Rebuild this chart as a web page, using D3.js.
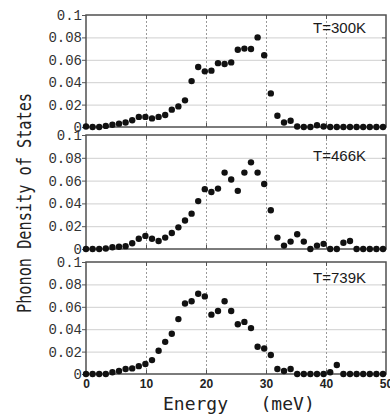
<!DOCTYPE html>
<html>
<head>
<meta charset="utf-8">
<script src="https://cdn.jsdelivr.net/npm/d3@7"></script>
<style>
  body { margin: 0; background: #fff; }
  .grid-h line { stroke: #cfcfcf; stroke-width: 1; }
  .grid-v line { stroke: #9a9a9a; stroke-width: 1; stroke-dasharray: 2,2; }
  .ytick text { font-family: "Liberation Mono", monospace; font-size: 14px; fill: #333; }
  .ytick line, .inner-tick line { stroke: #555; stroke-width: 1; }
  .xtick text { font-family: "Liberation Sans", Arial, sans-serif; font-weight: bold; font-size: 12px; fill: #222; }
  .xtick line { stroke: none; }
</style>
</head>
<body>
<svg id="chart" width="390" height="416"></svg>
<script>
// energy grid (meV) and phonon DOS
const energy = [0, 1.1, 2.2, 3.3, 4.4, 5.5, 6.6, 7.7, 8.8, 9.9,
  11, 12.1, 13.2, 14.3, 15.4, 16.5, 17.6, 18.7, 19.8, 20.9,
  22, 23.1, 24.2, 25.3, 26.4, 27.5, 28.6, 29.7, 30.8, 31.9,
  33, 34.1, 35.2, 36.3, 37.4, 38.5, 39.6, 40.7, 41.8, 42.9,
  44, 45.1, 46.2, 47.3, 48.4, 49.5];

const dos300 = [0.0005, 0, 0, 0.001, 0.002, 0.003, 0.004, 0.006, 0.009, 0.009,
  0.0077, 0.009, 0.0107, 0.0155, 0.0184, 0.0238, 0.041, 0.0536, 0.0497, 0.0503,
  0.057, 0.0563, 0.0577, 0.069, 0.070, 0.0697, 0.080, 0.064, 0.030, 0.010,
  0.004, 0.0056, 0.0005, 0, 0, 0.0015, 0.0005, 0, 0, 0,
  0, 0, 0, 0, 0, 0];

const dos466 = [0, 0, 0, 0.0005, 0.0015, 0.002, 0.0025, 0.005, 0.009, 0.0115,
  0.009, 0.007, 0.010, 0.014, 0.019, 0.025, 0.031, 0.042, 0.0525, 0.050,
  0.053, 0.067, 0.061, 0.051, 0.067, 0.076, 0.067, 0.057, 0.034, 0.010,
  0.003, 0.0065, 0.013, 0.0065, 0, 0.003, 0.0045, 0, 0, 0.0055,
  0.007, 0, 0, 0, 0, 0];

const dos739 = [0, 0, 0, 0, 0.0015, 0.0027, 0.0044, 0.005, 0.007, 0.0089,
  0.0124, 0.0207, 0.0287, 0.036, 0.049, 0.063, 0.065, 0.0717, 0.0693, 0.053,
  0.0563, 0.0649, 0.0563, 0.0444, 0.0465, 0.041, 0.0243, 0.0228, 0.0169, 0.0044,
  0.0027, 0.0044, 0, 0, 0, 0, 0, 0.0015, 0.008, 0,
  0, 0, 0, 0, 0, 0];

const tempLabels = ["T=300K", "T=466K", "T=739K"];
const yTicks = [0, 0.02, 0.04, 0.06, 0.08, 0.1];
const xTicks = [0, 10, 20, 30, 40, 50];

const series = [dos300, dos466, dos739];

// panel layout
const left = 86, right = 386;
const panels = [
  { top: 15, bottom: 127, labelY: 33 },
  { top: 135, bottom: 249, labelY: 161 },
  { top: 262, bottom: 374, labelY: 283 }
];

const svg = d3.select("#chart");
const x = d3.scaleLinear().domain([0, 50]).range([left, right]);
const w = right - left;

panels.forEach((p, i) => {
  const y = d3.scaleLinear().domain([0, 0.1]).range([p.bottom, p.top]);
  const h = p.bottom - p.top;
  const g = svg.append("g");

  // grid lines
  g.append("g")
    .attr("class", "grid-h")
    .attr("transform", `translate(${left},0)`)
    .call(d3.axisLeft(y).tickValues(yTicks.slice(1, -1)).tickSize(-w).tickFormat(""))
    .call(a => a.select(".domain").remove());

  g.append("g")
    .attr("class", "grid-v")
    .attr("transform", `translate(0,${p.bottom})`)
    .call(d3.axisBottom(x).tickValues(xTicks.slice(1, -1)).tickSize(-h).tickFormat(""))
    .call(a => a.select(".domain").remove());

  // small inner ticks on right, top, bottom
  g.append("g")
    .attr("class", "inner-tick")
    .attr("transform", `translate(${right},0)`)
    .call(d3.axisRight(y).tickValues(yTicks.slice(1, -1)).tickSize(-4).tickFormat(""))
    .call(a => a.select(".domain").remove());
  g.append("g")
    .attr("class", "inner-tick")
    .attr("transform", `translate(0,${p.bottom})`)
    .call(d3.axisBottom(x).tickValues(xTicks.slice(1, -1)).tickSize(-4).tickFormat(""))
    .call(a => a.select(".domain").remove());
  g.append("g")
    .attr("class", "inner-tick")
    .attr("transform", `translate(0,${p.top})`)
    .call(d3.axisTop(x).tickValues(xTicks.slice(1, -1)).tickSize(-4).tickFormat(""))
    .call(a => a.select(".domain").remove());

  // left axis labels
  g.append("g")
    .attr("class", "ytick")
    .attr("transform", `translate(${left},0)`)
    .call(d3.axisLeft(y).tickValues(yTicks).tickSize(4).tickPadding(0)
      .tickFormat(d => d === 0 ? "0" : d3.format(".2~f")(d)))
    .call(a => a.select(".domain").remove());

  // frame
  g.append("rect")
    .attr("x", left).attr("y", p.top)
    .attr("width", w).attr("height", h)
    .attr("fill", "none")
    .attr("stroke", "#505050")
    .attr("stroke-width", 1.5);

  // points
  g.append("g")
    .selectAll("circle")
    .data(series[i])
    .enter()
    .append("circle")
    .attr("cx", (d, k) => x(energy[k]))
    .attr("cy", d => y(d))
    .attr("r", 3.2)
    .attr("fill", "#111");

  // temperature label
  g.append("text")
    .attr("x", 366)
    .attr("y", p.labelY)
    .attr("text-anchor", "end")
    .style("font-family", "Liberation Sans, Arial, sans-serif")
    .style("font-size", "15px")
    .style("fill", "#1a1a1a")
    .text(tempLabels[i]);

  // bottom axis labels on last panel
  if (i === panels.length - 1) {
    g.append("g")
      .attr("class", "xtick")
      .attr("transform", `translate(0,${p.bottom})`)
      .call(d3.axisBottom(x).tickValues(xTicks).tickSize(0).tickPadding(5))
      .call(a => a.select(".domain").remove());
  }
});

// axis titles
svg.append("text")
  .attr("transform", "translate(31,203) rotate(-90)")
  .attr("text-anchor", "middle")
  .attr("textLength", 220)
  .attr("lengthAdjust", "spacingAndGlyphs")
  .style("font-family", "DejaVu Sans Mono, monospace")
  .style("font-size", "19px")
  .style("fill", "#222")
  .text("Phonon Density of States");

svg.append("text")
  .attr("x", 163)
  .attr("y", 410)
  .attr("xml:space", "preserve")
  .style("white-space", "pre")
  .style("font-family", "DejaVu Sans Mono, monospace")
  .style("font-size", "18px")
  .style("fill", "#222")
  .text("Energy   (meV)");
</script>
</body>
</html>
